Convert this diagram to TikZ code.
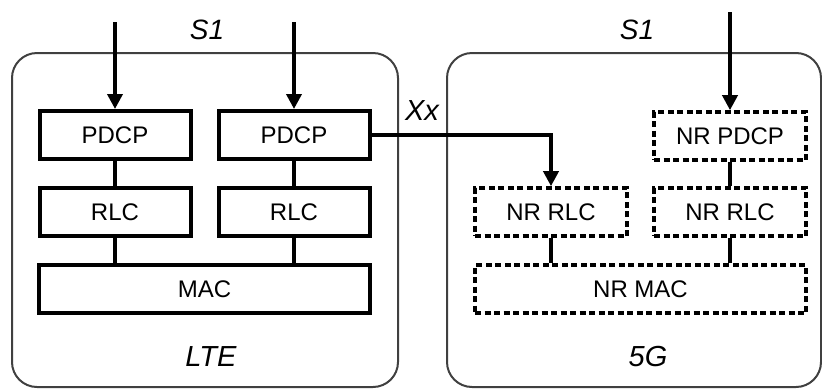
\documentclass[tikz,border=0pt]{standalone}
\usepackage{fontspec}
\setmainfont{Liberation Sans}
\usepackage{tikz}
\usetikzlibrary{arrows.meta}

\begin{document}
\begin{tikzpicture}[x=1pt,y=-1pt,
  layer/.style={draw,line width=4pt,minimum height=48pt,inner sep=0pt,font=\fontsize{24}{28}\selectfont},
  nrlayer/.style={layer,line width=3.6pt,dash pattern=on 6pt off 3.5pt},
  link/.style={line width=3.6pt},
  feed/.style={line width=3.6pt,-{Triangle[length=15pt,width=15pt]}},
  tag/.style={font=\fontsize{28}{32}\itshape}]
  \useasboundingbox (0,0) rectangle (822,389);
  % outer boxes
  \draw[black!75,line width=2pt,rounded corners=25pt](12,53) rectangle (398,387);
  \draw[black!75,line width=2pt,rounded corners=25pt](447,53) rectangle (821,387);
  % LTE stack
  \node[layer,minimum width=151pt](pdcpA) at(115,135){PDCP};
  \node[layer,minimum width=151pt](pdcpB) at(294,135){PDCP};
  \node[layer,minimum width=151pt](rlcA) at(115,212){RLC};
  \node[layer,minimum width=151pt](rlcB) at(294,212){RLC};
  \node[layer,minimum width=331pt](mac) at(204.5,289){MAC};
  % NR stack
  \node[nrlayer,minimum width=152pt](nrpdcp) at(730,136){NR PDCP};
  \node[nrlayer,minimum width=152pt](nrrlcA) at(551,212){NR RLC};
  \node[nrlayer,minimum width=152pt](nrrlcB) at(730,212){NR RLC};
  \node[nrlayer,minimum width=331pt](nrmac) at(640.5,289){NR MAC};
  % labels
  \node[tag](sA) at(207,30){S1};
  \node[tag](sB) at(637,30){S1};
  \node[tag,font=\fontsize{29}{32}\itshape](xx) at(422,111){Xx};
  \node[tag,font=\fontsize{29}{32}\itshape](lte) at(211,357){LTE};
  \node[tag,font=\fontsize{29}{32}\itshape](fiveg) at(648,357){5G};
  % feeds
  \coordinate(inA) at(115,22);
  \coordinate(inB) at(294,22);
  \coordinate(inC) at(730,12);
  \draw[feed](inA)--(pdcpA);
  \draw[feed](inB)--(pdcpB);
  \draw[feed](inC)--(nrpdcp);
  \draw[feed](pdcpB.east)-|(nrrlcA.north);
  % links
  \draw[link](pdcpA)--(rlcA);
  \draw[link](pdcpB)--(rlcB);
  \draw[link](rlcA.south)--(rlcA.south|-mac.north);
  \draw[link](rlcB.south)--(rlcB.south|-mac.north);
  \draw[link](nrpdcp)--(nrrlcB);
  \draw[link](nrrlcA.south)--(nrrlcA.south|-nrmac.north);
  \draw[link](nrrlcB.south)--(nrrlcB.south|-nrmac.north);
\end{tikzpicture}
\end{document}
